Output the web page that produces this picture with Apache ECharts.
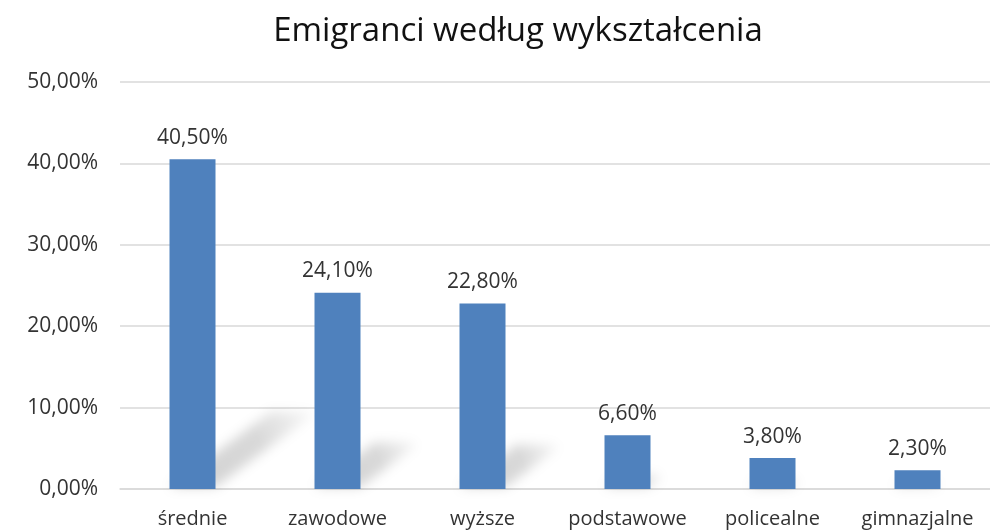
<!DOCTYPE html>
<html>
<head>
<meta charset="utf-8">
<script src="https://cdn.jsdelivr.net/npm/echarts@6/dist/echarts.min.js"></script>
<style>
  html, body { margin: 0; padding: 0; background: #fff; }
  #chart { width: 990px; height: 532px; }
</style>
</head>
<body>
<div id="chart"></div>
<script>
const categories = ['średnie', 'zawodowe', 'wyższe', 'podstawowe', 'policealne', 'gimnazjalne']
const shares = [40.5, 24.1, 22.8, 6.6, 3.8, 2.3]
const yTicks = { min: 0, max: 50, interval: 10 }

const FONT = '"Open Sans", sans-serif'
const TEXT_COLOR = '#333'
const BAR_COLOR = '#4f81bd'
const BAR_WIDTH = 46
// the shadow shape is drawn off-canvas and only its blurred shadow is shifted back in
const OFFSET = 3000

function pct(v) {
  return v.toFixed(2).replace('.', ',') + '%'
}

// skewed drop shadow like the Excel perspective shadow
function renderShadow(params, api) {
  const base = api.coord([api.value(0), 0])
  const top = api.coord([api.value(0), api.value(1)])
  const h = base[1] - top[1]
  const dx = h * 0.31
  const dy = h * 0.23
  const half = BAR_WIDTH / 2
  const x0 = base[0] - half - OFFSET
  const x1 = base[0] + half - OFFSET
  const y = base[1] - 2
  return {
    type: 'polygon',
    shape: {
      points: [
        [x0, y],
        [x1, y],
        [x1 + dx, y - dy],
        [x0 + dx, y - dy],
      ],
    },
    style: {
      fill: new echarts.graphic.LinearGradient(0, 1, 1, 0, [
        { offset: 0, color: 'rgba(0,0,0,0.5)' },
        { offset: 0.6, color: 'rgba(0,0,0,0.42)' },
        { offset: 1, color: 'rgba(0,0,0,0.06)' },
      ]),
      shadowBlur: 12,
      shadowColor: 'rgba(0,0,0,0.36)',
      shadowOffsetX: OFFSET,
      shadowOffsetY: 0,
    },
  }
}

const chart = echarts.init(document.getElementById('chart'))

chart.setOption({
  animation: false,
  title: {
    text: 'Emigranci według wykształcenia',
    left: 513,
    top: 10,
    textAlign: 'center',
    textStyle: {
      fontFamily: FONT,
      fontSize: 33,
      fontWeight: 'normal',
      color: '#111',
    },
  },
  grid: {
    left: 120,
    right: 0,
    top: 82,
    bottom: 43,
  },
  xAxis: {
    type: 'category',
    data: categories,
    axisLine: { show: true, lineStyle: { color: '#d9d9d9', width: 1.5 } },
    axisTick: { show: false },
    axisLabel: {
      margin: 20,
      fontFamily: FONT,
      fontSize: 20,
      color: TEXT_COLOR,
      interval: 0,
    },
  },
  yAxis: {
    type: 'value',
    min: yTicks.min,
    max: yTicks.max,
    interval: yTicks.interval,
    axisLine: { show: false },
    axisTick: { show: false },
    splitLine: { lineStyle: { color: '#d9d9d9', width: 1.5 } },
    axisLabel: {
      margin: 22,
      fontFamily: FONT,
      fontSize: 21,
      color: TEXT_COLOR,
      formatter: pct,
    },
  },
  series: [
    {
      type: 'custom',
      renderItem: renderShadow,
      data: shares.map((v, i) => [i, v]),
      clip: false,
      z: 1,
      silent: true,
    },
    {
      type: 'bar',
      data: shares,
      barWidth: BAR_WIDTH,
      itemStyle: { color: BAR_COLOR },
      z: 3,
      label: {
        show: true,
        position: 'top',
        distance: 11,
        fontFamily: FONT,
        fontSize: 21,
        color: TEXT_COLOR,
        formatter: (p) => pct(p.value),
      },
    },
  ],
})
</script>
</body>
</html>
